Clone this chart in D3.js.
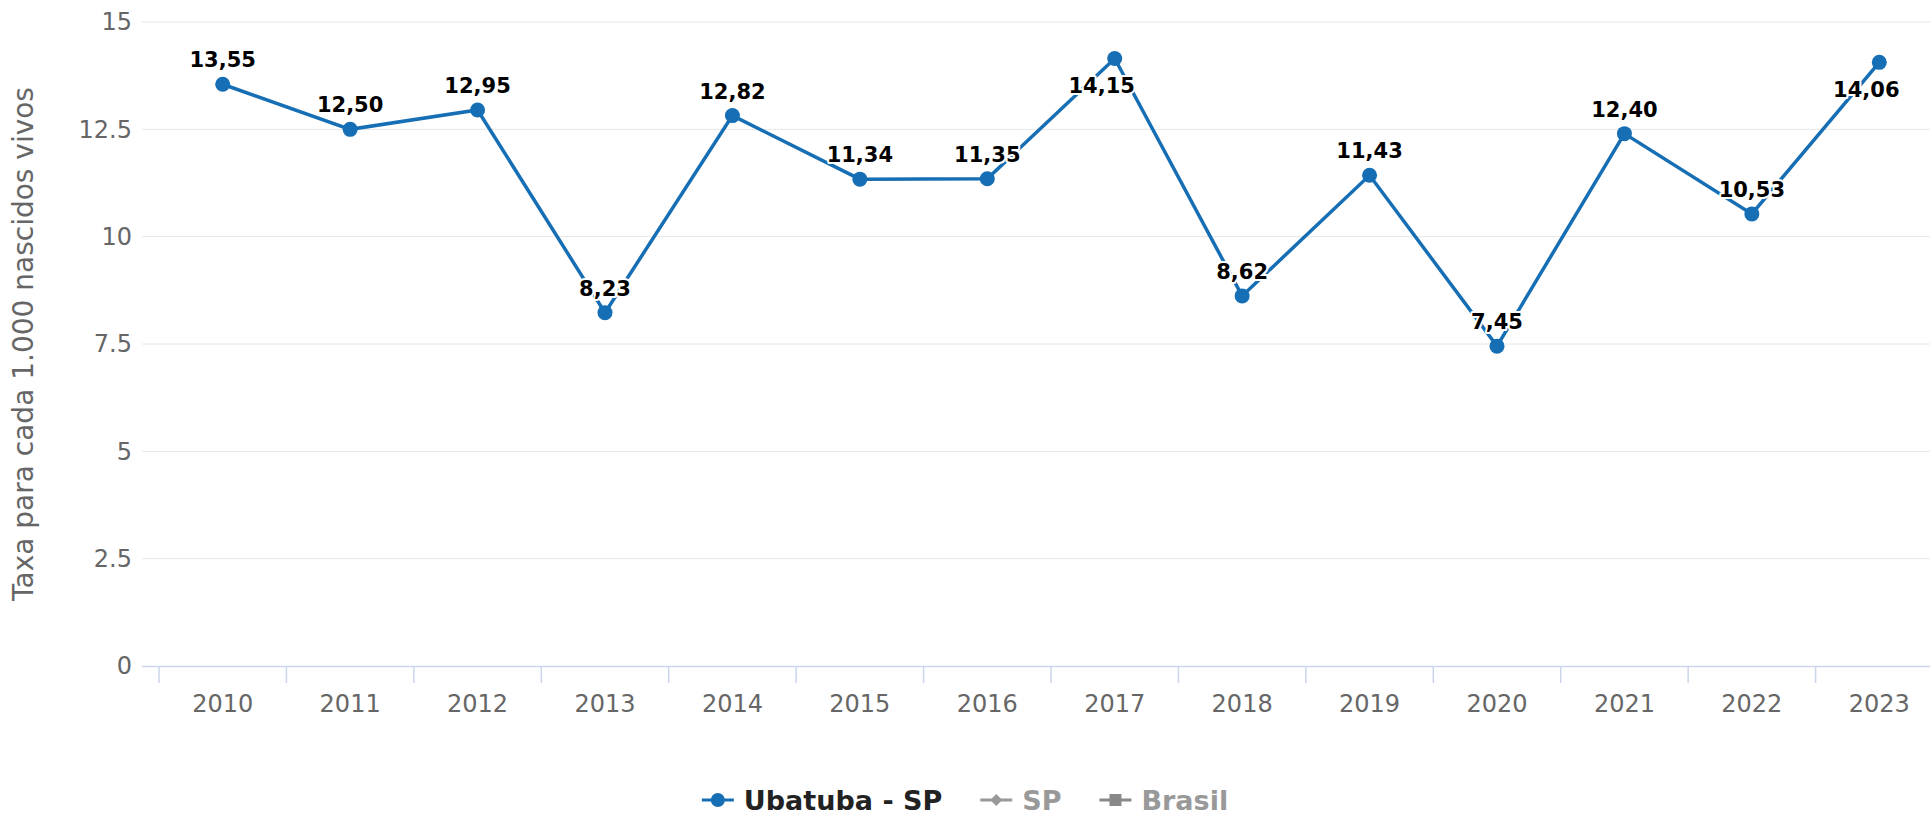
<!DOCTYPE html>
<html>
<head>
<meta charset="utf-8">
<script src="https://cdn.jsdelivr.net/npm/d3@7"></script>
<style>
  body { margin: 0; background: #fff; }
  svg { display: block; font-family: "DejaVu Sans", sans-serif; }
</style>
</head>
<body>
<div id="chart"></div>
<script>
// data
const years = ["2010", "2011", "2012", "2013", "2014", "2015", "2016", "2017", "2018", "2019", "2020", "2021", "2022", "2023"];
const ubatuba = [13.55, 12.50, 12.95, 8.23, 12.82, 11.34, 11.35, 14.15, 8.62, 11.43, 7.45, 12.40, 10.53, 14.06];
const yTicks = [0, 2.5, 5, 7.5, 10, 12.5, 15];
const legendItems = [
  { name: "Ubatuba - SP", color: "#166eb4", text: "#222", symbol: "circle" },
  { name: "SP", color: "#999", text: "#999", symbol: "diamond" },
  { name: "Brasil", color: "#888", text: "#999", symbol: "square" }
];

const width = 1930, height = 820;
const plotLeft = 142, plotRight = 1930, plotTop = 22, plotBottom = 666;
const blue = "#166eb4";

const svg = d3.select("#chart").append("svg")
  .attr("width", width)
  .attr("height", height);

const x = d3.scaleBand().domain(years).range([159, 1943]);
const y = d3.scaleLinear().domain([0, 15]).range([plotBottom, plotTop]);

// gridlines
svg.append("g")
  .selectAll("line")
  .data(yTicks.filter(d => d > 0))
  .join("line")
  .attr("x1", plotLeft).attr("x2", plotRight)
  .attr("y1", d => y(d)).attr("y2", d => y(d))
  .attr("stroke", "#e6e6e6").attr("stroke-width", 1);

// y axis labels
const yAxis = svg.append("g")
  .attr("transform", `translate(${plotLeft},0)`)
  .call(d3.axisLeft(y).tickValues(yTicks).tickSize(0).tickPadding(10).tickFormat(d3.format("")));
yAxis.select(".domain").remove();
yAxis.selectAll("text")
  .attr("fill", "#666").attr("font-size", 24)
  .attr("font-family", "DejaVu Sans, sans-serif");

// x axis line + ticks at band boundaries
svg.append("line")
  .attr("x1", plotLeft).attr("x2", plotRight)
  .attr("y1", plotBottom + 0.5).attr("y2", plotBottom + 0.5)
  .attr("stroke", "#ccd6eb").attr("stroke-width", 1.5);

svg.append("g")
  .selectAll("line")
  .data(years)
  .join("line")
  .attr("x1", d => x(d)).attr("x2", d => x(d))
  .attr("y1", plotBottom).attr("y2", plotBottom + 17)
  .attr("stroke", "#ccd6eb").attr("stroke-width", 1.5);

svg.append("g")
  .selectAll("text")
  .data(years)
  .join("text")
  .attr("x", d => x(d) + x.bandwidth() / 2)
  .attr("y", plotBottom + 46)
  .attr("text-anchor", "middle")
  .attr("fill", "#666")
  .attr("font-size", 24)
  .text(d => d);

// y axis title
svg.append("text")
  .attr("transform", `translate(33,${(plotTop + plotBottom) / 2}) rotate(-90)`)
  .attr("text-anchor", "middle")
  .attr("fill", "#666")
  .attr("font-size", 28)
  .text("Taxa para cada 1.000 nascidos vivos");

// series
const pts = years.map((yr, i) => ({ year: yr, value: ubatuba[i] }));
const line = d3.line()
  .x(d => x(d.year) + x.bandwidth() / 2)
  .y(d => y(d.value));

svg.append("path")
  .datum(pts)
  .attr("d", line)
  .attr("fill", "none")
  .attr("stroke", blue)
  .attr("stroke-width", 3.5);

svg.append("g")
  .selectAll("circle")
  .data(pts)
  .join("circle")
  .attr("cx", d => x(d.year) + x.bandwidth() / 2)
  .attr("cy", d => y(d.value))
  .attr("r", 7.5)
  .attr("fill", blue);

// data labels (flip below the point when there's no room above)
const fmt = v => d3.format(".2f")(v).replace(".", ",");
svg.append("g")
  .selectAll("text")
  .data(pts)
  .join("text")
  .each(function(d) {
    const px = x(d.year) + x.bandwidth() / 2;
    const py = y(d.value);
    const flip = py - 42 < plotTop;
    d3.select(this)
      .attr("x", flip ? px - 13 : px)
      .attr("y", flip ? py + 35 : py - 17);
  })
  .attr("text-anchor", "middle")
  .attr("font-size", 21)
  .attr("font-weight", "bold")
  .attr("fill", "#000")
  .attr("stroke", "#fff")
  .attr("stroke-width", 4)
  .attr("stroke-linejoin", "round")
  .attr("paint-order", "stroke")
  .text(d => fmt(d.value));

// legend
const legend = svg.append("g");
let cursor = 0;
legendItems.forEach(item => {
  const g = legend.append("g").attr("transform", `translate(${cursor},0)`);
  g.append("line")
    .attr("x1", 0).attr("x2", 32).attr("y1", 0).attr("y2", 0)
    .attr("stroke", item.color).attr("stroke-width", 3);
  if (item.symbol === "circle") {
    g.append("circle").attr("cx", 16).attr("cy", 0).attr("r", 7).attr("fill", item.color);
  } else if (item.symbol === "diamond") {
    g.append("path").attr("d", "M16,-6L22,0L16,6L10,0Z").attr("fill", item.color);
  } else {
    g.append("rect").attr("x", 10).attr("y", -6).attr("width", 12).attr("height", 12).attr("fill", item.color);
  }
  const t = g.append("text")
    .attr("x", 42).attr("y", 10)
    .attr("font-size", 27)
    .attr("font-weight", "bold")
    .attr("fill", item.text)
    .text(item.name);
  cursor += 42 + t.node().getComputedTextLength() + 38;
});
const legendWidth = cursor - 38;
legend.attr("transform", `translate(${(width - legendWidth) / 2},800)`);
</script>
</body>
</html>
